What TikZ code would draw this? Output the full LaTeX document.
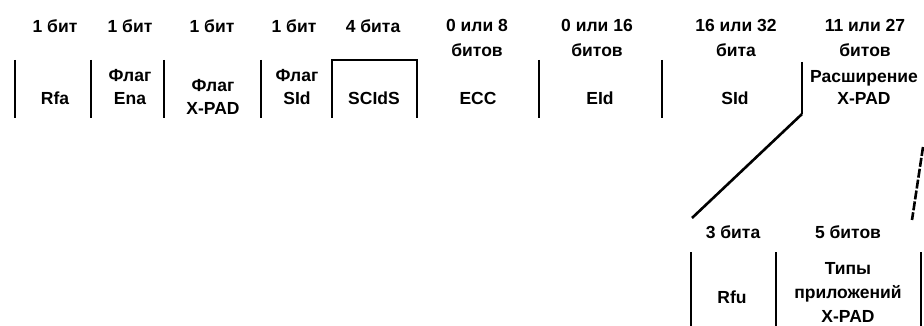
\documentclass[tikz,border=0pt]{standalone}
\usepackage{fontspec}
\setmainfont{Liberation Sans}
\usetikzlibrary{positioning}

\begin{document}
\begin{tikzpicture}[
  x=1pt, y=-1pt,
  bits/.style={font=\bfseries\fontsize{17.5}{25}\selectfont, align=center, inner sep=0pt, anchor=north},
  field/.style={font=\bfseries\fontsize{17.5}{23}\selectfont, align=center, inner sep=0pt, anchor=north},
  sep/.style={line width=2pt},
  zoomline/.style={line width=2.6pt}
]
  \useasboundingbox (0,0) rectangle (924,326);

  % Bit counts
  \node[bits] (b1) at (55,19) {1 бит};
  \node[bits] (b2) at (130,19) {1 бит};
  \node[bits] (b3) at (212,19) {1 бит};
  \node[bits] (b4) at (294,19) {1 бит};
  \node[bits] (b5) at (373,19) {4 бита};
  \node[bits] (b6) at (477,19) {0 или 8\\битов};
  \node[bits] (b7) at (597,19) {0 или 16\\битов};
  \node[bits] (b8) at (736,19) {16 или 32\\бита};
  \node[bits] (b9) at (865,19) {11 или 27\\битов};

  % Fields
  \node[field] (rfa) at (55,92) {Rfa};
  \node[field] (ena) at (130,69) {Флаг\\Ena};
  \node[field] (xflag) at (213,79) {Флаг\\X-PAD};
  \node[field] (sflag) at (297,69) {Флаг\\SId};
  \node[field] (scids) at (374,92) {SCIdS};
  \node[field] (ecc) at (478,92) {ECC};
  \node[field] (eid) at (600,92) {EId};
  \node[field] (sid) at (735,92) {SId};
  \node[field, font=\bfseries\fontsize{17.5}{22}\selectfont] (ext) at (864,70) {Расширение\\X-PAD};

  % Separators
  \foreach \x in {15,91,164,261,539,662} {
    \draw[sep] (\x,60) -- (\x,118);
  }
  \draw[sep] (332,118) -- (332,60) -- (417,60) -- (417,118);

  % X-PAD extension breakdown
  \coordinate (ext top) at (802,62);
  \coordinate (ext corner) at (802,114);
  \coordinate (sub left) at (692,218);
  \coordinate (ext right) at (923,147);
  \coordinate (sub right) at (912,220);
  \draw[sep] (ext top) -- (ext corner);
  \draw[zoomline] (ext corner) -- (sub left);
  \draw[zoomline, dash pattern=on 9pt off 2pt] (ext right) -- (sub right);

  \node[bits] (b10) at (733,225) {3 бита};
  \node[bits] (b11) at (848,225) {5 битов};
  \node[field] (rfu) at (732,291) {Rfu};
  \node[field, font=\bfseries\fontsize{17.5}{24}\selectfont] (apps) at (848,262) {Типы\\приложений\\X-PAD};

  \foreach \x in {691,776,921} {
    \draw[sep] (\x,252) -- (\x,326);
  }
\end{tikzpicture}
\end{document}
